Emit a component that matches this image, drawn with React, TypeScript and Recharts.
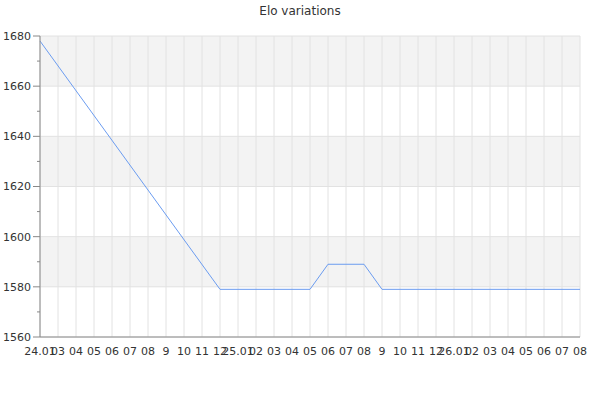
import { LineChart, Line, XAxis, YAxis, CartesianGrid } from "recharts";

const xLabels = [
  "24.01", "03", "04", "05", "06", "07", "08", "9", "10", "11", "12",
  "25.01", "02", "03", "04", "05", "06", "07", "08", "9", "10", "11", "12",
  "26.01", "02", "03", "04", "05", "06", "07", "08",
];

// vertices of the elo line, x = tick index
const eloIdx = [0, 10, 15, 16, 18, 19, 30];
const eloVal = [1678, 1579, 1579, 1589, 1589, 1579, 1579];

const yMajor = [1560, 1580, 1600, 1620, 1640, 1660, 1680];
const yAll = [1560, 1570, 1580, 1590, 1600, 1610, 1620, 1630, 1640, 1650, 1660, 1670, 1680];

const data = eloIdx.map((x, i) => ({ x, elo: eloVal[i] }));
const xTicks = xLabels.map((_, i) => i);

const font = "'DejaVu Sans', sans-serif";

const YTick = ({ x, y, payload }: any) => {
  const major = yMajor.includes(payload.value);
  return (
    <g>
      <line x1={x - (major ? 7 : 3)} x2={x} y1={y} y2={y} stroke="#888" />
      {major && (
        <text x={x - 9} y={y} dy="0.35em" textAnchor="end" fontSize={11} fill="#333" fontFamily={font}>
          {payload.value}
        </text>
      )}
    </g>
  );
};

export default function App() {
  return (
    <div style={{ position: "fixed", left: 0, top: 0, width: 600, height: 400, background: "#fff", fontFamily: font }}>
      <div style={{ position: "absolute", top: 4, width: 600, textAlign: "center", fontSize: 12, color: "#333" }}>
        Elo variations
      </div>
      <LineChart width={600} height={400} data={data} margin={{ top: 36, right: 20, left: 0, bottom: 0 }}>
        <CartesianGrid
          stroke="#e2e2e2"
          horizontalValues={yMajor}
          verticalValues={xTicks}
          horizontalFill={["#f3f3f3", "#ffffff"]}
          fillOpacity={1}
        />
        <XAxis
          dataKey="x"
          type="number"
          domain={[0, 30]}
          ticks={xTicks}
          interval={0}
          tickFormatter={(v) => xLabels[v]}
          tickLine={false}
          tickMargin={4}
          stroke="#888"
          tick={{ fill: "#333", fontSize: 11, fontFamily: font }}
          height={63}
        />
        <YAxis
          type="number"
          domain={[1560, 1680]}
          ticks={yAll}
          interval={0}
          width={40}
          tickLine={false}
          tickSize={0}
          tickMargin={0}
          stroke="#888"
          tick={<YTick />}
        />
        <Line type="linear" dataKey="elo" stroke="#6b9cf0" strokeWidth={1} dot={false} isAnimationActive={false} />
      </LineChart>
    </div>
  );
}
